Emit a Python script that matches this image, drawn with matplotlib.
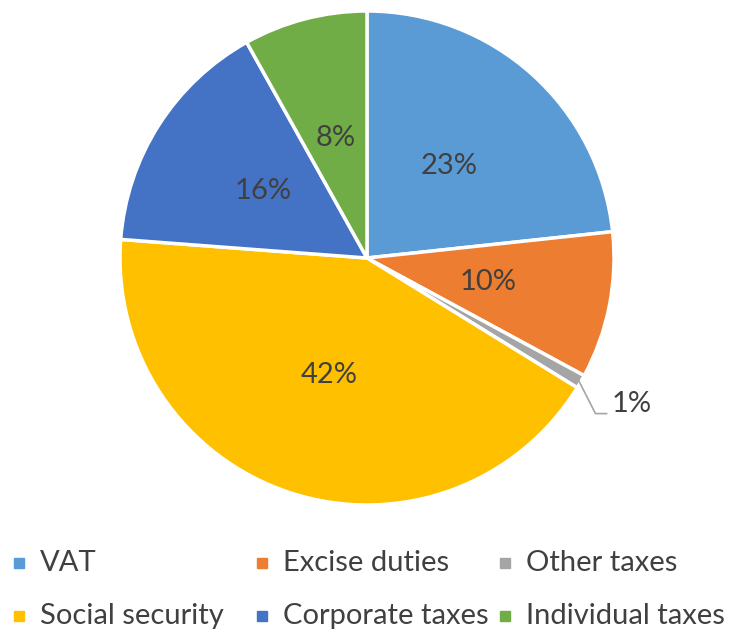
import matplotlib
matplotlib.use("Agg")
import matplotlib.pyplot as plt
from matplotlib.patches import Rectangle
import numpy as np

labels = ["VAT", "Excise duties", "Other taxes", "Social security", "Corporate taxes", "Individual taxes"]
values = [23.3, 9.6, 0.9, 42.4, 15.7, 8.1]
pct_text = ["23%", "10%", "1%", "42%", "16%", "8%"]
colors = ["#5B9BD5", "#ED7D31", "#A5A5A5", "#FFC000", "#4472C4", "#70AD47"]

plt.rcParams['font.family'] = ['Lato', 'DejaVu Sans']
txt = "#404040"
fs = 21

W, H = 729, 632
fig = plt.figure(figsize=(W / 100, H / 100), dpi=100)
cx, cy, r = 367, 258, 247
ax = fig.add_axes([(cx - r) / W, (H - cy - r) / H, 2 * r / W, 2 * r / H])

wedges, _ = ax.pie(values, colors=colors, startangle=90, counterclock=False,
                   wedgeprops=dict(edgecolor="white", linewidth=2.5))
ax.set_xlim(-1, 1)
ax.set_ylim(-1, 1)
ax.set_aspect("equal")
ax.axis("off")

for w, t in zip(wedges, pct_text):
    mid = np.deg2rad((w.theta1 + w.theta2) / 2)
    if t == "1%":
        x0, y0 = 0.99 * np.cos(mid), 0.99 * np.sin(mid)
        x1, y1 = 0.925, -0.63
        x2 = 0.97
        ax.plot([x0, x1, x2], [y0, y1, y1], color="#A5A5A5", lw=1.2, clip_on=False)
        ax.text(x2 + 0.02, y1 + 0.04, t, ha="left", va="center", fontsize=fs, color=txt)
    else:
        ax.text(0.5 * np.cos(mid), 0.5 * np.sin(mid), t, ha="center", va="center",
                fontsize=fs, color=txt)

# legend, laid out row by row like the original
col_x = [14, 257, 500]
row_y = [563, 616]
sq = 10
for i, (lab, col) in enumerate(zip(labels, colors)):
    x = col_x[i % 3]
    y = row_y[i // 3]
    fig.add_artist(Rectangle((x / W, (H - y - sq / 2) / H), sq / W, sq / H,
                             transform=fig.transFigure, color=col))
    fig.text((x + 26) / W, (H - y) / H, lab, ha="left", va="center",
             fontsize=fs, color=txt)

fig.savefig("out.png", dpi=100)
